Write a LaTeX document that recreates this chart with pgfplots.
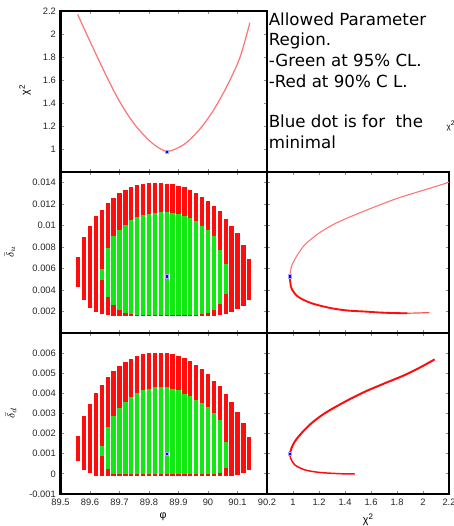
\documentclass[border=0pt]{standalone}
\usepackage{fontspec}
\setmainfont{Liberation Sans}
\newfontfamily\dejavu{DejaVu Sans}
\usepackage{pgfplots}
\pgfplotsset{compat=1.18}
\usepackage{pgfplotstable}

\definecolor{barred}{RGB}{255,12,12}
\definecolor{bargreen}{RGB}{18,232,18}
\definecolor{curvered}{RGB}{255,115,115}
\definecolor{tickgray}{RGB}{140,140,140}

% red / green ranges of delta_u for each phi column
\pgfplotstableread{
phi   lo      hi
89.56 0.0043  0.0071
89.58 0.0031  0.0089
89.60 0.0023  0.0100
89.62 0.0020  0.0109
89.64 0.0018  0.0115
89.66 0.0017  0.0121
89.68 0.0016  0.0126
89.70 0.0016  0.0130
89.72 0.0016  0.0133
89.74 0.0016  0.0136
89.76 0.0016  0.0138
89.78 0.0016  0.0139
89.80 0.0016  0.0140
89.82 0.0016  0.0140
89.84 0.0016  0.0140
89.86 0.0016  0.0139
89.88 0.0016  0.0139
89.90 0.0016  0.0137
89.92 0.0016  0.0136
89.94 0.0016  0.0133
89.96 0.0016  0.0130
89.98 0.0016  0.0127
90.00 0.0016  0.0123
90.02 0.0016  0.0118
90.04 0.0017  0.0114
90.06 0.0018  0.0106
90.08 0.0020  0.0100
90.10 0.0022  0.0093
90.12 0.0025  0.0082
90.14 0.0031  0.0069
}\ured
\pgfplotstableread{
phi   lo      hi
89.64 0.0049  0.0060
89.66 0.0034  0.0079
89.68 0.0026  0.0090
89.70 0.0021  0.0096
89.72 0.0019  0.0101
89.74 0.0018  0.0105
89.76 0.0017  0.0108
89.78 0.0017  0.0110
89.80 0.0017  0.0111
89.82 0.0017  0.0112
89.84 0.0017  0.0113
89.86 0.0017  0.0113
89.88 0.0017  0.0112
89.90 0.0017  0.0111
89.92 0.0017  0.0109
89.94 0.0017  0.0107
89.96 0.0017  0.0104
89.98 0.0018  0.0100
90.00 0.0019  0.0096
90.02 0.0021  0.0090
90.04 0.0027  0.0077
90.06 0.0036  0.0064
}\ugreen
% same for delta_d
\pgfplotstableread{
phi   lo        hi
89.56 0.00063   0.00187
89.58 0.00021   0.00286
89.60 0.00005   0.00349
89.62 -0.0001   0.00402
89.64 -0.0001   0.00443
89.66 -0.0001   0.00480
89.68 -0.0001   0.00509
89.70 -0.0001   0.00534
89.72 -0.0001   0.00554
89.74 -0.0001   0.00572
89.76 -0.0001   0.00588
89.78 -0.0001   0.00596
89.80 -0.0001   0.00600
89.82 -0.0001   0.00600
89.84 -0.0001   0.00600
89.86 -0.0001   0.00600
89.88 -0.0001   0.00597
89.90 -0.0001   0.00587
89.92 -0.0001   0.00575
89.94 -0.0001   0.00559
89.96 -0.0001   0.00539
89.98 -0.0001   0.00521
90.00 -0.0001   0.00497
90.02 -0.0001   0.00464
90.04 -0.0001   0.00438
90.06 -0.0001   0.00397
90.08 -0.0001   0.00355
90.10 -0.00005  0.00309
90.12 0.00005   0.00253
90.14 0.00021   0.00182
}\dred
\pgfplotstableread{
phi   lo        hi
89.64 0.00091   0.00137
89.66 0.00025   0.00233
89.68 0.00000   0.00289
89.70 -0.00003  0.00327
89.72 -0.00003  0.00357
89.74 -0.00003  0.00380
89.76 -0.00003  0.00402
89.78 -0.00003  0.00415
89.80 -0.00003  0.00423
89.82 -0.00003  0.00430
89.84 -0.00003  0.00431
89.86 -0.00003  0.00430
89.88 -0.00003  0.00421
89.90 -0.00003  0.00415
89.92 -0.00003  0.00398
89.94 -0.00003  0.00385
89.96 -0.00003  0.00369
89.98 -0.00003  0.00352
90.00 -0.00003  0.00332
90.02 -0.00003  0.00302
90.04 0.00005   0.00266
90.06 0.00030   0.00157
}\dgreen

\pgfplotsset{
  panel/.style={scale only axis, anchor=south west,
    axis line style={line width=2pt},
    tick align=inside, major tick length=2.4pt,
    tick style={tickgray, line width=0.6pt},
    ticklabel style={font=\fontsize{7}{8}\selectfont, color=black!85},
    /pgf/number format/assume math mode=true,
    scaled ticks=false},
  leftcol/.style={panel, width=154.85pt, xmin=89.5, xmax=90.2},
  rightcol/.style={panel, width=136.5pt, xmin=0.8, xmax=2.2,
    xtick={1,1.2,1.4,1.6,1.8,2,2.2}},
  rowh/.style={height=120.75pt},
  ufmt/.style={ymin=0, ymax=0.015,
    ytick={0.002,0.004,0.006,0.008,0.01,0.012,0.014}},
  dfmt/.style={ymin=-0.001, ymax=0.007,
    ytick={-0.001,0,0.001,0.002,0.003,0.004,0.005,0.006}},
  bars/.style={draw=none, mark=none, forget plot,
    error bars/.cd, y dir=both, y explicit, error mark=none,
    error bar style={draw=#1, line width=3.2pt}},
  bluedot/.style={only marks, mark=square*, mark size=1.4pt,
    mark options={fill=blue, draw=blue!35, line width=0.4pt}},
}

\begin{document}
\begin{tikzpicture}
\path[use as bounding box] (0,0) rectangle (340.5pt,394.5pt);

% top left: chi^2 vs phi
\begin{axis}[leftcol, rowh, at={(45.4pt,265.5pt)},
  ymin=0.8, ymax=2.2, ytick={1,1.2,1.4,1.6,1.8,2,2.2},
  yticklabel style={/pgf/number format/.cd, fixed, precision=1},
  xtick={89.6,89.7,89.8,89.9,90,90.1}, xticklabels={}]
\addplot[curvered, line width=0.9pt, smooth] coordinates {
  (89.558,2.171) (89.600,1.935) (89.634,1.750) (89.668,1.570)
  (89.702,1.405) (89.747,1.228) (89.792,1.095) (89.826,1.022)
  (89.860,0.979) (89.894,1.005) (89.928,1.058) (89.973,1.175)
  (90.018,1.335) (90.063,1.540) (90.108,1.794) (90.142,2.098)};
\addplot[bluedot] coordinates {(89.86,0.975)};
\end{axis}

% middle left: delta_u vs phi
\begin{axis}[leftcol, rowh, ufmt, at={(45.4pt,144.75pt)},
  yticklabel style={/pgf/number format/.cd, fixed, precision=3},
  xtick={89.6,89.7,89.8,89.9,90,90.1}, xticklabels={}]
\addplot[bars=barred] table[x=phi, y expr=(\thisrow{lo}+\thisrow{hi})/2,
  y error expr=(\thisrow{hi}-\thisrow{lo})/2] \ured;
\addplot[bars=bargreen] table[x=phi, y expr=(\thisrow{lo}+\thisrow{hi})/2,
  y error expr=(\thisrow{hi}-\thisrow{lo})/2] \ugreen;
\addplot[bluedot] coordinates {(89.86,0.0053)};
\end{axis}

% bottom left: delta_d vs phi
\begin{axis}[leftcol, rowh, dfmt, at={(45.4pt,24pt)},
  yticklabel style={/pgf/number format/.cd, fixed, precision=3},
  xtick={89.5,89.6,89.7,89.8,89.9,90,90.1,90.2},
  xticklabel style={/pgf/number format/.cd, fixed, precision=1}]
\addplot[bars=barred] table[x=phi, y expr=(\thisrow{lo}+\thisrow{hi})/2,
  y error expr=(\thisrow{hi}-\thisrow{lo})/2] \dred;
\addplot[bars=bargreen] table[x=phi, y expr=(\thisrow{lo}+\thisrow{hi})/2,
  y error expr=(\thisrow{hi}-\thisrow{lo})/2] \dgreen;
\addplot[bluedot] coordinates {(89.86,0.001)};
\end{axis}

% middle right: delta_u vs chi^2
\begin{axis}[rightcol, rowh, ufmt, at={(200.25pt,144.75pt)},
  xticklabels={}, yticklabels={}]
\addplot[curvered, line width=0.8pt, smooth] coordinates {
  (2.25,0.01430) (2.18,0.01397) (2.013,0.01334) (1.808,0.01257)
  (1.603,0.01163) (1.398,0.01061) (1.295,0.01001) (1.192,0.00924)
  (1.09,0.00821) (1.026,0.00712) (0.988,0.00619) (0.975,0.00526)};
\addplot[barred!70, line width=0.9pt, smooth] coordinates {
  (1.68,0.00190) (1.808,0.00185) (1.91,0.00185) (2.05,0.00190)};
\addplot[barred, line width=1.4pt, smooth] coordinates {
  (0.975,0.00526) (0.988,0.00418) (1.038,0.00339) (1.141,0.00278)
  (1.295,0.00231) (1.423,0.00209) (1.552,0.00200) (1.68,0.00190)
  (1.808,0.00185) (1.88,0.00184)};
\addplot[bluedot] coordinates {(0.975,0.0053)};
\end{axis}

% bottom right: delta_d vs chi^2
\begin{axis}[rightcol, rowh, dfmt, at={(200.25pt,24pt)},
  yticklabels={},
  xticklabel style={/pgf/number format/.cd, fixed, precision=1}]
\addplot[barred, line width=1.5pt, smooth] coordinates {
  (2.09,0.00569) (1.987,0.00532) (1.859,0.00491) (1.705,0.00450)
  (1.552,0.00408) (1.398,0.00358) (1.244,0.00301) (1.141,0.00251)
  (1.065,0.00202) (1.013,0.00160) (0.988,0.00127) (0.975,0.00099)};
\addplot[barred, line width=1.1pt, smooth] coordinates {
  (0.975,0.00099) (0.982,0.00078) (1.013,0.00045) (1.09,0.00020)
  (1.192,0.00008) (1.295,0.00003) (1.398,0.00000) (1.475,0.00000)};
\addplot[bluedot] coordinates {(0.975,0.001)};
\end{axis}

% axis labels
\node[rotate=90, font=\fontsize{8}{9}\selectfont] at (18.75pt,327pt) {χ\textsuperscript{2}};
\node[rotate=90, font=\fontsize{8}{9}\selectfont] at (7.5pt,205.5pt) {$\bar{\delta}_u$};
\node[rotate=90, font=\fontsize{8}{9}\selectfont] at (8.25pt,84.75pt) {$\bar{\delta}_d$};
\node[font=\fontsize{8}{9}\selectfont] at (122.25pt,7pt) {φ};
\node[font=\fontsize{8}{9}\selectfont] at (276.2pt,4.5pt) {χ\textsuperscript{2}};

% legend text in the top right
\begin{scope}[every node/.style={anchor=base west, inner sep=0pt,
    font=\dejavu\fontsize{12.5}{15}\selectfont}]
\node at (201.4pt,375.4pt) {Allowed Parameter};
\node at (201.4pt,360.0pt) {Region.};
\node at (201.4pt,344.6pt) {-Green at 95\% CL.};
\node at (201.4pt,329.2pt) {-Red at 90\% C L.};
\node at (201.4pt,298.5pt) {Blue dot is for\ \ the};
\node at (201.4pt,283.1pt) {minimal};
\end{scope}
\node[anchor=west, inner sep=0pt, font=\fontsize{6}{7}\selectfont] at (334.8pt,300pt) {χ\textsuperscript{2}};
\end{tikzpicture}
\end{document}
